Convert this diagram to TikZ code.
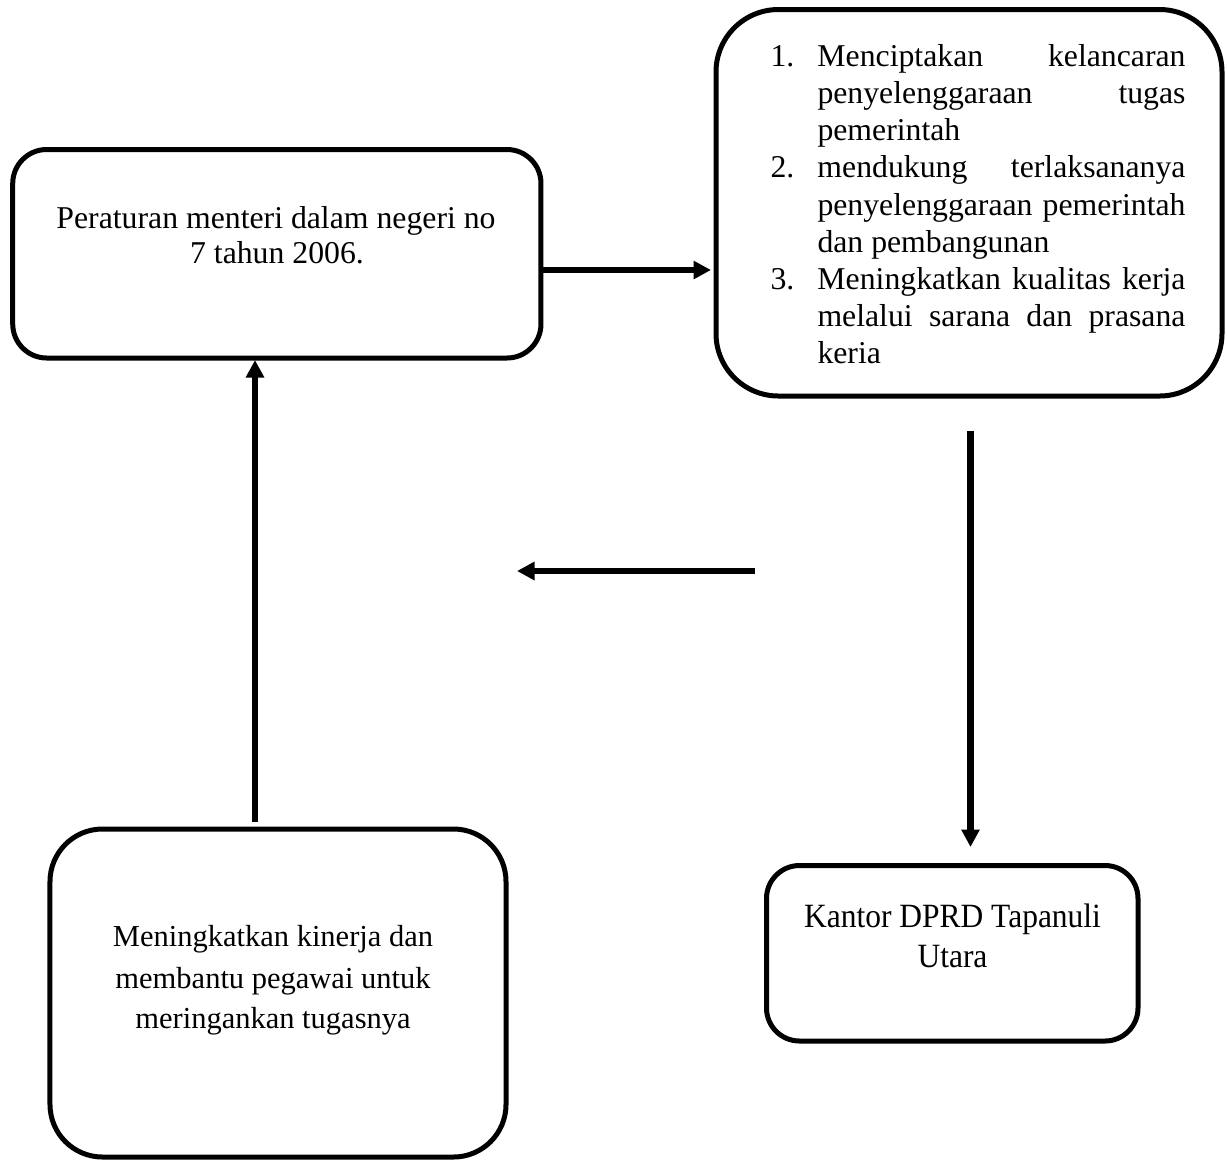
\documentclass[tikz,border=0pt]{standalone}
\usepackage{fontspec}
\setmainfont{Liberation Serif}
\newfontfamily\narrowserif[FakeStretch=0.926]{Liberation Serif}
\usetikzlibrary{arrows.meta}
\begin{document}
\begin{tikzpicture}[x=0.4pt,y=-0.4pt,
  box/.style={draw,line width=2pt,rectangle,inner sep=0pt},
  arr/.style={line width=2.6pt,-{Triangle[length=7pt,width=7pt]}},
  txt/.style={inner sep=0pt,anchor=base}]
\useasboundingbox (0,0) rectangle (1227,1162);
% boxes
\node[box,minimum width=211.3pt,minimum height=83.4pt,rounded corners=13.6pt] (b1) at (276.85,253.75) {};
\node[box,minimum width=202.4pt,minimum height=154.6pt,rounded corners=25pt] (b2) at (969,202.75) {};
\node[box,minimum width=148.6pt,minimum height=70.2pt,rounded corners=13.2pt] (b3) at (952.25,953.25) {};
\node[box,minimum width=182.4pt,minimum height=131.2pt,rounded corners=21pt] (b4) at (278,993) {};
% box 1 text
\node[txt,font=\fontsize{12.7pt}{14.4pt}\selectfont] (t1a) at (276,228) {Peraturan menteri dalam negeri no};
\node[txt,font=\fontsize{12.7pt}{14.4pt}\selectfont] (t1b) at (277,263) {7 tahun 2006.};
% box 2 text
\node[inner sep=0pt,anchor=base west,font=\fontsize{12.7pt}{14.83pt}\selectfont] (t2) at (770,66.7) {\vtop{\baselineskip=14.83pt
 \hbox{\hbox to 18.8pt{1.\hfil}\hbox to 147.2pt{Menciptakan\hfil kelancaran}}
 \hbox{\hbox to 18.8pt{}\hbox to 147.2pt{penyelenggaraan\hfil tugas}}
 \hbox{\hbox to 18.8pt{}pemerintah}
 \hbox{\hbox to 18.8pt{2.\hfil}\hbox to 147.2pt{mendukung\hfil terlaksananya}}
 \hbox{\hbox to 18.8pt{}\hbox to 147.2pt{penyelenggaraan\hfil pemerintah}}
 \hbox{\hbox to 18.8pt{}dan pembangunan}
 \hbox{\hbox to 18.8pt{3.\hfil}\hbox to 147.2pt{Meningkatkan\hfil kualitas\hfil kerja}}
 \hbox{\hbox to 18.8pt{}\hbox to 147.2pt{melalui\hfil sarana\hfil dan\hfil prasana}}
 \hbox{\hbox to 18.8pt{}keria}}};
% box 3 text
\node[txt,font=\narrowserif\fontsize{13.6pt}{16pt}\selectfont] (t3a) at (952.5,927) {Kantor DPRD Tapanuli};
\node[txt,font=\narrowserif\fontsize{13.6pt}{16pt}\selectfont] (t3b) at (952.5,967) {Utara};
% box 4 text
\node[txt,font=\fontsize{12.2pt}{16.4pt}\selectfont] (t4a) at (273,946) {Meningkatkan kinerja dan};
\node[txt,font=\fontsize{12.2pt}{16.4pt}\selectfont] (t4b) at (273,988) {membantu pegawai untuk};
\node[txt,font=\fontsize{12.2pt}{16.4pt}\selectfont] (t4c) at (273,1028.5) {meringankan tugasnya};
% connector end points
\coordinate (c2s) at (970.5,431);
\coordinate (c2e) at (970.5,847);
\coordinate (c3s) at (755,571);
\coordinate (c3e) at (517,571);
\coordinate (c4s) at (255,822);
\coordinate (c4e) at (255,360);
% connectors
\draw[arr,shorten >=1pt] (b1.east |- 0,270) -- (b2.west |- 0,270);
\draw[arr] (c2s) -- (c2e);
\draw[arr] (c3s) -- (c3e);
\draw[arr] (c4s) -- (c4e);
\end{tikzpicture}
\end{document}
